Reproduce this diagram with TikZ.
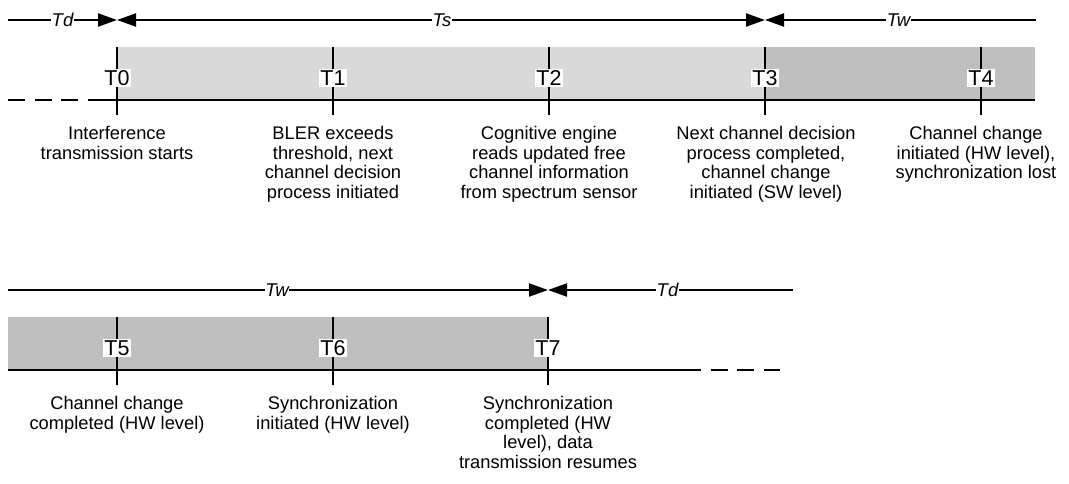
\documentclass[tikz,border=0pt]{standalone}
\usepackage{fontspec}
\setmainfont{Liberation Sans}
\usetikzlibrary{arrows.meta}
\definecolor{lightbar}{RGB}{217,217,217}
\definecolor{darkbar}{RGB}{191,191,191}
\tikzset{
  line/.style={line width=2pt},
  span/.style={line width=2pt},
  tipR/.style={-{Triangle[length=19pt,width=13pt]}},
  tipL/.style={{Triangle[length=19pt,width=13pt]}-},
  tipLR/.style={{Triangle[length=19pt,width=13pt]}-{Triangle[length=19pt,width=13pt]}},
  spanlabel/.style={fill=white,inner sep=0.5pt,font=\fontsize{18.5}{20}\selectfont\itshape},
  tlabel/.style={fill=white,inner sep=1.8pt,font=\fontsize{21.5}{24}\selectfont},
  desc/.style={anchor=north,align=center,inner sep=0pt,font=\fontsize{18.3}{19.6}\selectfont},
  dashline/.style={line width=2pt,dash pattern=on 17pt off 9.5pt},
}
\begin{document}
\begin{tikzpicture}[x=1pt,y=-1pt]
\useasboundingbox (0,0) rectangle (1069,483);
% ---------- top row ----------
\fill[lightbar] (117,47) rectangle (765,100);
\fill[darkbar] (765,47) rectangle (1035,100);
\coordinate (a0) at (8,20);
\coordinate (a1) at (117,20);
\coordinate (a2) at (765,20);
\coordinate (a3) at (1036,20);
\draw[span,tipR] (a0) -- node[spanlabel]{Td} (a1);
\draw[span,tipLR] (a1) -- node[spanlabel,xshift=1pt]{Ts} (a2);
\draw[span,tipL] (a2) -- node[spanlabel,xshift=-2pt]{Tw} (a3);
\coordinate (b0) at (8,100);
\coordinate (b1) at (103,100);
\coordinate (b2) at (1035,100);
\draw[dashline] (b0) -- (b1);
\draw[line] (b1) -- (b2);
\foreach \i/\x in {0/117,1/333,2/549,3/765,4/981}{
  \coordinate (tt\i) at (\x,47);
  \coordinate (tb\i) at (\x,115);
  \draw[line] (tt\i) -- (tb\i);
  \node[tlabel] (T\i) at (\x,78) {T\i};
}
\node[desc] (d0) at (117,126) {Interference\\transmission starts};
\node[desc] (d1) at (333,126) {BLER exceeds\\threshold, next\\channel decision\\process initiated};
\node[desc] (d2) at (549,126) {Cognitive engine\\reads updated free\\channel information\\from spectrum sensor};
\node[desc] (d3) at (766,126) {Next channel decision\\process completed,\\channel change\\initiated (SW level)};
\node[desc] (d4) at (976,126) {Channel change\\initiated (HW level),\\synchronization lost};
% ---------- bottom row ----------
\fill[darkbar] (8,317) rectangle (548,370);
\coordinate (c0) at (8,290);
\coordinate (c1) at (548,290);
\coordinate (c2) at (793,290);
\draw[span,tipR] (c0) -- node[spanlabel,xshift=-1pt]{Tw} (c1);
\draw[span,tipL] (c1) -- node[spanlabel,xshift=-3pt]{Td} (c2);
\coordinate (e0) at (8,370);
\coordinate (e1) at (684,370);
\coordinate (e2) at (780,370);
\draw[line] (e0) -- (e1);
\draw[dashline] (e1) -- (e2);
\foreach \i/\x in {5/117,6/333,7/548}{
  \coordinate (tt\i) at (\x,317);
  \coordinate (tb\i) at (\x,385);
  \draw[line] (tt\i) -- (tb\i);
  \node[tlabel] (T\i) at (\x,348) {T\i};
}
\node[desc] (d5) at (117,396) {Channel change\\completed (HW level)};
\node[desc] (d6) at (333,396) {Synchronization\\initiated (HW level)};
\node[desc] (d7) at (548,396) {Synchronization\\completed (HW\\level), data\\transmission resumes};
\end{tikzpicture}
\end{document}
